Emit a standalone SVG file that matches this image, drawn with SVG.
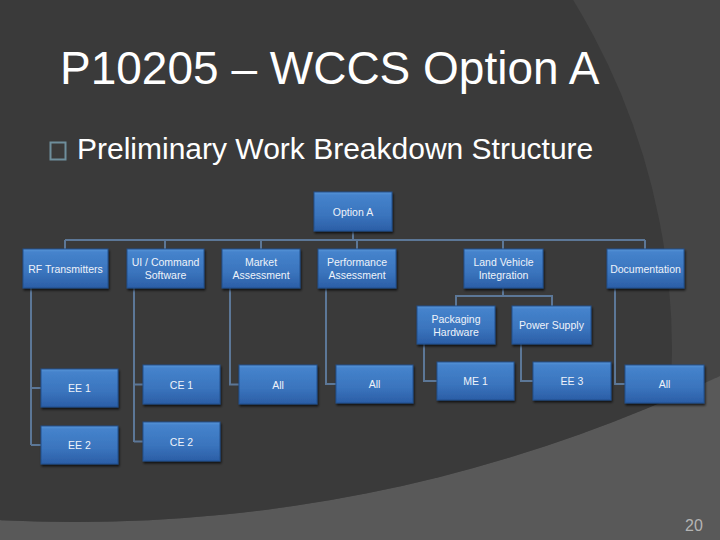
<svg xmlns="http://www.w3.org/2000/svg" width="720" height="540" viewBox="0 0 720 540">
  <defs>
    <linearGradient id="boxg" x1="0" y1="0" x2="0" y2="1">
      <stop offset="0" stop-color="#5a96d8"/>
      <stop offset="0.08" stop-color="#4583cc"/>
      <stop offset="0.6" stop-color="#3a74bd"/>
      <stop offset="1" stop-color="#2b5ea6"/>
    </linearGradient>
    <filter id="sh" x="-10%" y="-10%" width="130%" height="140%">
      <feDropShadow dx="1" dy="2" stdDeviation="1.2" flood-color="#000" flood-opacity="0.7"/>
    </filter>
    <clipPath id="clipM">
      <circle cx="75" cy="-975" r="1497"/>
    </clipPath>
  </defs>
  <style>
    .box { fill: url(#boxg); stroke: #23508c; stroke-width: 1; filter: url(#sh); }
    .lbl { font-family: "Liberation Sans", Arial, sans-serif; font-size: 10.5px; fill: #eef3fa; text-anchor: middle; }
    .conn { fill: none; stroke: #5c7797; stroke-width: 2; }
  </style>

  <!-- background -->
  <rect x="0" y="0" width="720" height="540" fill="#595959"/>
  <circle cx="75" cy="-975" r="1497" fill="#454545"/>
  <circle cx="3" cy="350" r="669" fill="#3a3a3a" clip-path="url(#clipM)"/>

  <!-- title -->
  <text x="60" y="84" font-family="'Liberation Sans', Arial, sans-serif" font-size="46" fill="#ffffff">P10205 – WCCS Option A</text>
  <rect x="50.5" y="142.5" width="15" height="17" fill="none" stroke="#6e8e9c" stroke-width="2"/>
  <text x="77" y="159" font-family="'Liberation Sans', Arial, sans-serif" font-size="30" fill="#ffffff">Preliminary Work Breakdown Structure</text>

  <!-- connectors -->
  <g id="connectors" class="conn">
    <path d="M353 231 V240"/>
    <path d="M65 240 H645"/>
    <path d="M65 240 V249 M165 240 V249 M261 240 V249 M357 240 V249 M503 240 V249 M645 240 V249"/>
    <path d="M31 288 V445 M31 388 H41 M31 445 H41"/>
    <path d="M134 288 V442 M134 384.5 H143 M134 441.5 H143"/>
    <path d="M230 288 V384.5 H239"/>
    <path d="M326 288 V384 H336"/>
    <path d="M503 288 V296 M456 306 V296 H552 V306"/>
    <path d="M424 344 V381 H437"/>
    <path d="M521 344 V381 H533"/>
    <path d="M615 288 V384 H625"/>
  </g>

  <!-- nodes -->
  <g id="optionA"><rect class="box" x="314" y="192" width="78" height="39"/><text class="lbl" x="353" y="215.5">Option A</text></g>

  <g id="rf"><rect class="box" x="23" y="249" width="85" height="39"/><text class="lbl" x="65.5" y="272.5">RF Transmitters</text></g>
  <g id="ui"><rect class="box" x="127" y="249" width="77" height="39"/><text class="lbl" x="165.5" y="266">UI / Command</text><text class="lbl" x="165.5" y="279">Software</text></g>
  <g id="market"><rect class="box" x="222" y="249" width="78" height="39"/><text class="lbl" x="261" y="266">Market</text><text class="lbl" x="261" y="279">Assessment</text></g>
  <g id="perf"><rect class="box" x="318" y="249" width="78" height="39"/><text class="lbl" x="357" y="266">Performance</text><text class="lbl" x="357" y="279">Assessment</text></g>
  <g id="lvi"><rect class="box" x="464" y="249" width="79" height="39"/><text class="lbl" x="503.5" y="266">Land Vehicle</text><text class="lbl" x="503.5" y="279">Integration</text></g>
  <g id="doc"><rect class="box" x="607" y="249" width="77" height="39"/><text class="lbl" x="645.5" y="272.5">Documentation</text></g>

  <g id="pkg"><rect class="box" x="417" y="306" width="78" height="38"/><text class="lbl" x="456" y="323">Packaging</text><text class="lbl" x="456" y="336">Hardware</text></g>
  <g id="pwr"><rect class="box" x="512" y="306" width="79" height="38"/><text class="lbl" x="551.5" y="329">Power Supply</text></g>

  <g id="ee1"><rect class="box" x="41" y="369" width="77" height="38"/><text class="lbl" x="79.5" y="392">EE 1</text></g>
  <g id="ee2"><rect class="box" x="41" y="426" width="77" height="38"/><text class="lbl" x="79.5" y="449">EE 2</text></g>
  <g id="ce1"><rect class="box" x="143" y="365" width="77" height="39"/><text class="lbl" x="181.5" y="388.5">CE 1</text></g>
  <g id="ce2"><rect class="box" x="143" y="422" width="77" height="39"/><text class="lbl" x="181.5" y="445.5">CE 2</text></g>
  <g id="all1"><rect class="box" x="239" y="365" width="78" height="39"/><text class="lbl" x="278" y="388.5">All</text></g>
  <g id="all2"><rect class="box" x="336" y="365" width="77" height="38"/><text class="lbl" x="374.5" y="388">All</text></g>
  <g id="me1"><rect class="box" x="437" y="362" width="77" height="38"/><text class="lbl" x="475.5" y="385">ME 1</text></g>
  <g id="ee3"><rect class="box" x="533" y="362" width="78" height="38"/><text class="lbl" x="572" y="385">EE 3</text></g>
  <g id="all3"><rect class="box" x="625" y="365" width="79" height="38"/><text class="lbl" x="664.5" y="388">All</text></g>

  <text x="694" y="531" font-family="'Liberation Sans', Arial, sans-serif" font-size="16" fill="#b4b4b4" text-anchor="middle">20</text>
</svg>
